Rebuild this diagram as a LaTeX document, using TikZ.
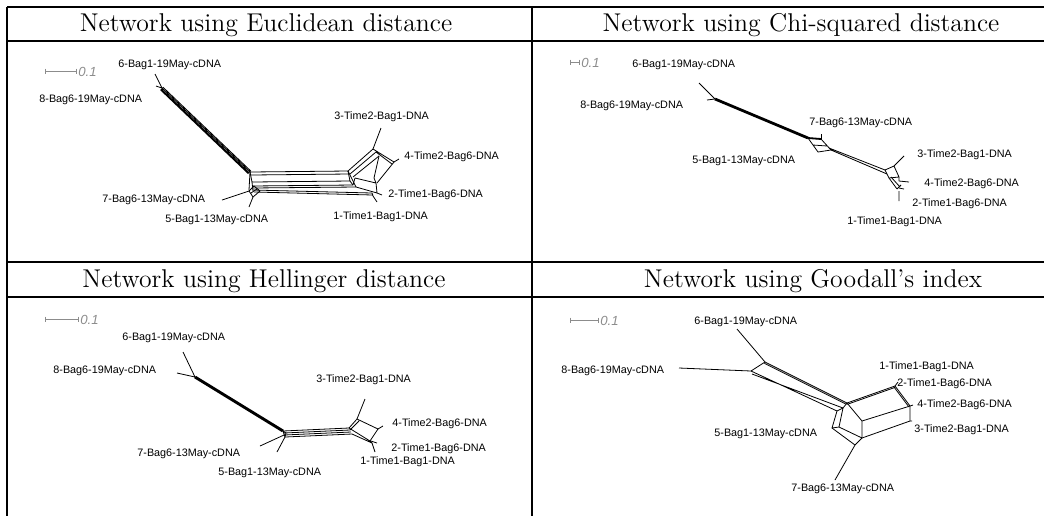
\documentclass[tikz,border=0pt]{standalone}
\usepackage{fontspec}
\newfontfamily\labfont{Liberation Sans}
\begin{document}
\begin{tikzpicture}[x=0.5pt,y=-0.5pt,
  rule/.style={line width=0.6pt},
  net/.style={line width=0.4pt, line join=round},
  taxon/.style={font=\labfont\fontsize{5.4}{6}\selectfont, anchor=west, inner sep=0pt},
  title/.style={font=\fontsize{12.85}{15}\selectfont, anchor=base, inner sep=0pt},
  scalelab/.style={font=\labfont\itshape\fontsize{6.6}{7}\selectfont, text=black!45, anchor=west, inner sep=0pt},
  bar/.style={line width=0.35pt, draw=black!45}]
\useasboundingbox (0,0) rectangle (1044,516);

% ---------- table rules ----------
\coordinate (t0) at (7,7);    \coordinate (t1) at (1044,7);
\coordinate (h0) at (7,41);   \coordinate (h1) at (1044,41);
\coordinate (m0) at (7,262);  \coordinate (m1) at (1044,262);
\coordinate (g0) at (7,297);  \coordinate (g1) at (1044,297);
\coordinate (vL0) at (7,7);   \coordinate (vL1) at (7,516);
\coordinate (vM0) at (532,7); \coordinate (vM1) at (532,516);
\draw[rule] (t0)--(t1) (h0)--(h1) (m0)--(m1) (g0)--(g1) (vL0)--(vL1) (vM0)--(vM1);

\node[title] (T1) at (266,31) {Network using Euclidean distance};
\node[title] (T2) at (801,31) {Network using Chi-squared distance};
\node[title] (T3) at (264,287) {Network using Hellinger distance};
\node[title] (T4) at (813,287) {Network using Goodall's index};

% ---------- scale bars ----------
\coordinate (sa0) at (45,71);  \coordinate (sa1) at (76,71);
\coordinate (sb0) at (570,62); \coordinate (sb1) at (579,62);
\coordinate (sc0) at (45,319); \coordinate (sc1) at (78,319);
\coordinate (sd0) at (570,320);\coordinate (sd1) at (598,320);
\foreach \s in {sa,sb,sc,sd}{
  \draw[bar] (\s0)--(\s1)
    ([shift={(0,-2.5)}]\s0)--([shift={(0,2.5)}]\s0)
    ([shift={(0,-2.5)}]\s1)--([shift={(0,2.5)}]\s1);
  \node[scalelab] at ([shift={(2,1)}]\s1) {0.1};
}

% ================= Euclidean =================
\coordinate (a6) at (155,74);   \coordinate (a8) at (156,86);
\coordinate (aF) at (162,88);
\coordinate (aL) at (250,172);  \coordinate (aR) at (348,171);
\coordinate (aLb) at (252,182); \coordinate (aRb) at (350,181);
\coordinate (a3s) at (373,149); \coordinate (a3) at (381,128);
\coordinate (a4s) at (394,162); \coordinate (a4) at (399,159);
\coordinate (aQ) at (376,183);
\coordinate (a2s) at (377,193); \coordinate (a2) at (382,195);
\coordinate (a1s) at (373,196); \coordinate (a1) at (377,202);
\coordinate (a7s) at (249,191); \coordinate (a7) at (222,200);
\coordinate (a5s) at (253,197); \coordinate (a5) at (249,207);

\draw[net] (a6)--(aF) (a8)--(aF);
\draw[net] (aF)--(aL)
  ([shift={(0.9,-0.9)}]aF)--([shift={(0.9,-0.9)}]aL)
  ([shift={(-0.9,0.9)}]aF)--([shift={(-0.9,0.9)}]aL)
  ([shift={(-1.6,1.8)}]aF)--([shift={(-1.6,1.8)}]aL);
% central box
\draw[net] (aL)--(aR)--(aRb)--(aLb)--cycle;
\draw[net] (251,175)--(349,174) (252,186)--(353,185) (252,188)--(356,187)
  (253,190)--(372,193) (254,192)--(373,195);
\draw[net] (aL)--(249,190) (aR)--(356,187) (aLb)--(253,191) (aRb)--(353,185);
% left end
\draw[net] (a7s)--(254,186)--(260,191)--(a5s)--cycle (251,193)--(257,189);
\draw[net] (a7)--(a7s) (a5)--(a5s);
% right end
\draw[net] (aR)--(a3s) (350,174)--(376,152) (353,177)--(379,156);
\draw[net] (a3s)--(a3) (a3s)--(a4s) (376,152)--(392,164) (a4s)--(a4);
\draw[net] (a4s)--(377,183) (379,156)--(374,178);
\draw[net] (355,178)--(aQ)--(a2s) (355,178)--(353,185) (356,187)--(a2s) (aQ)--(374,178);
\draw[net] (a2s)--(a2) (a1s)--(a1) (372,193)--(a1s);

\node[taxon] (na6) at (118,65)  {6-Bag1-19May-cDNA};
\node[taxon] (na8) at (39,100)  {8-Bag6-19May-cDNA};
\node[taxon] (na3) at (334,117) {3-Time2-Bag1-DNA};
\node[taxon] (na4) at (404,157) {4-Time2-Bag6-DNA};
\node[taxon] (na2) at (388,195) {2-Time1-Bag6-DNA};
\node[taxon] (na1) at (333,217) {1-Time1-Bag1-DNA};
\node[taxon] (na7) at (102,200) {7-Bag6-13May-cDNA};
\node[taxon] (na5) at (165,220) {5-Bag1-13May-cDNA};

% ================= Chi-squared =================
\coordinate (b6) at (699,83);  \coordinate (b8) at (707,100);
\coordinate (bF) at (715,99);
\coordinate (bQ1) at (808,138); \coordinate (bQ2) at (821,139);
\coordinate (bQ3) at (831,150); \coordinate (bQ4) at (818,152);
\coordinate (b7) at (821,134);
\coordinate (bR1) at (885,170); \coordinate (bR2) at (894,166);
\coordinate (bR3) at (899,177); \coordinate (bR4) at (889,178);
\coordinate (b3) at (904,156);
\coordinate (b4s) at (899,181); \coordinate (b4) at (909,182);
\coordinate (b2s) at (899,188); \coordinate (b2) at (904,189);
\coordinate (b1s) at (899,191); \coordinate (b1) at (899,201);

\draw[net] (b6)--(bF) (b8)--(bF);
\draw[net] (bF)--(bQ1)
  ([shift={(0.4,-0.9)}]bF)--([shift={(0.4,-0.9)}]bQ1)
  ([shift={(-0.4,0.9)}]bF)--([shift={(-0.4,0.9)}]bQ1);
\draw[net] (bQ1)--(bQ2)--(bQ3)--(bQ4)--cycle (813,145)--(827,146);
\draw[line width=0.9pt] (bQ1)--(bQ2);
\draw[net] (bQ2)--(b7);
\draw[net] (829,148)--(bR1) (bQ3)--(887,174);
\draw[net] (bR1)--(bR2)--(bR3)--(bR4)--cycle (bR2)--(b3) (b4s)--(b4);
\draw[net] (bR4)--(897,189) (891,177)--(900,187) (897,189)--(901,185) (bR3)--(b4s);
\draw[net] (b2s)--(b2) (b1s)--(b1);

\node[taxon] (nb6) at (632,65)  {6-Bag1-19May-cDNA};
\node[taxon] (nb8) at (580,106) {8-Bag6-19May-cDNA};
\node[taxon] (nb7) at (809,123) {7-Bag6-13May-cDNA};
\node[taxon] (nb5) at (692,161) {5-Bag1-13May-cDNA};
\node[taxon] (nb3) at (917,155) {3-Time2-Bag1-DNA};
\node[taxon] (nb4) at (924,184) {4-Time2-Bag6-DNA};
\node[taxon] (nb2) at (912,204) {2-Time1-Bag6-DNA};
\node[taxon] (nb1) at (847,222) {1-Time1-Bag1-DNA};

% ================= Hellinger =================
\coordinate (c6) at (183,352); \coordinate (c8) at (177,373);
\coordinate (cF) at (195,377);
\coordinate (cL) at (283,431); \coordinate (cA) at (349,428);
\coordinate (cB) at (357,419); \coordinate (cC) at (378,429);
\coordinate (cD) at (370,441);
\coordinate (c3) at (365,399); \coordinate (c4) at (383,426);
\coordinate (c2) at (377,443); \coordinate (c1) at (375,452);
\coordinate (c7) at (260,446); \coordinate (c5) at (277,452);

\draw[net] (c6)--(cF) (c8)--(cF);
\draw[net] (cF)--(cL)
  ([shift={(0.7,-0.8)}]cF)--([shift={(0.7,-0.8)}]cL)
  ([shift={(-0.7,0.8)}]cF)--([shift={(-0.7,0.8)}]cL);
\draw[net] (cL)--(cA) (284,433)--(350,430) (284,435)--(351,432) (285,437)--(352,434);
\draw[net] (cL)--(286,433)--(285,437)--cycle;
\draw[net] (c7)--(284,435) (c5)--(285,437);
\draw[net] (cA)--(cB)--(cC)--(cD)--cycle (350,430)--(359,421) (352,434)--(372,443) (cD)--(372,443);
\draw[net] (cB)--(c3) (cC)--(c4) (371,441)--(c2) (372,443)--(c1);

\node[taxon] (nc6) at (122,338) {6-Bag1-19May-cDNA};
\node[taxon] (nc8) at (53,371)  {8-Bag6-19May-cDNA};
\node[taxon] (nc3) at (316,380) {3-Time2-Bag1-DNA};
\node[taxon] (nc4) at (392,424) {4-Time2-Bag6-DNA};
\node[taxon] (nc2) at (391,449) {2-Time1-Bag6-DNA};
\node[taxon] (nc1) at (360,462) {1-Time1-Bag1-DNA};
\node[taxon] (nc7) at (137,454) {7-Bag6-13May-cDNA};
\node[taxon] (nc5) at (218,473) {5-Bag1-13May-cDNA};

% ================= Goodall =================
\coordinate (d6) at (737,329); \coordinate (d6s) at (765,362);
\coordinate (d8) at (679,368); \coordinate (d8s) at (751,371);
\coordinate (dC1) at (847,403); \coordinate (dC2) at (837,411);
\coordinate (dS) at (843,408);  \coordinate (dK) at (839,427);
\coordinate (dK2) at (832,428);
\coordinate (dP) at (862,421);  \coordinate (dQ) at (862,438);
\coordinate (dW) at (855,445);  \coordinate (d7) at (835,480);
\coordinate (dT) at (895,386);  \coordinate (dU) at (910,406);
\coordinate (dV) at (910,421);
\coordinate (d1) at (898,382);  \coordinate (d4) at (913,405);

\draw[net] (d6)--(d6s) (d8)--(d8s) (d6s)--(d8s);
\draw[net] (d6s)--(dC1) ([shift={(-0.6,1.3)}]d6s)--([shift={(-0.6,1.3)}]dC1);
\draw[net] (d8s)--(dC2) ([shift={(1,3)}]d8s)--(dS);
\draw[net] (dC2)--(dK2)--(dK)--(dS)--cycle (dC1)--(dS);
\draw[net] (dC1)--(dP)--(dQ)--(dK) (dK2)--(dW)--(dQ) (dW)--(d7);
\draw[net] (dC1)--(dT)--(dU)--(dP) (dQ)--(dV)--(dU);
\draw[net] ([shift={(0.3,1.3)}]dC1)--([shift={(0.3,1.3)}]dT)
  ([shift={(-1.1,0.9)}]dT)--([shift={(-1.1,0.9)}]dU);
\draw[net] (dT)--(d1) (dU)--(d4) (dV)--(912,421);

\node[taxon] (nd6) at (694,322) {6-Bag1-19May-cDNA};
\node[taxon] (nd8) at (561,371) {8-Bag6-19May-cDNA};
\node[taxon] (nd1) at (879,367) {1-Time1-Bag1-DNA};
\node[taxon] (nd2) at (897,384) {2-Time1-Bag6-DNA};
\node[taxon] (nd4) at (917,405) {4-Time2-Bag6-DNA};
\node[taxon] (nd3) at (914,430) {3-Time2-Bag1-DNA};
\node[taxon] (nd5) at (714,434) {5-Bag1-13May-cDNA};
\node[taxon] (nd7) at (791,489) {7-Bag6-13May-cDNA};
\end{tikzpicture}
\end{document}
